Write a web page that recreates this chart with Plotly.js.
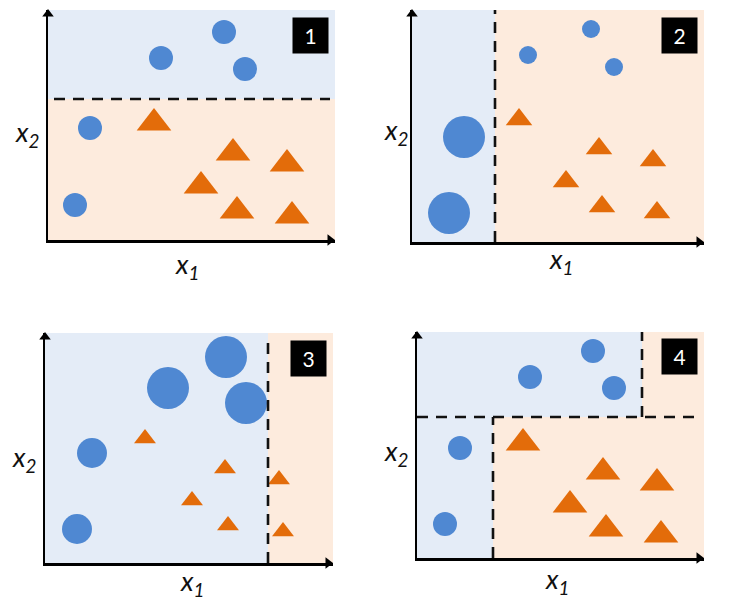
<!DOCTYPE html>
<html>
<head>
<meta charset="utf-8">
<script src="https://cdn.plot.ly/plotly-3.0.1.min.js"></script>
<style>html,body{margin:0;padding:0;background:#fff;}#chart{width:738px;height:603px;}</style>
</head>
<body>
<div id="chart"></div>
<script>
// ---------- data (relative positions in each panel) ----------
const panelLabels = ["1", "2", "3", "4"];

const circleX1 = [113, 176, 197, 42, 27];
const circleY1 = [182, 208, 171, 112, 35];
const circleW1 = [24, 24, 24, 24, 24];
const triX1 = [106, 185, 239, 153, 189, 244];
const triY1 = [117, 87, 76, 54, 29, 24];
const triW1 = [30, 30, 30, 30, 30, 30];

const circleX2 = [116, 179, 202, 52, 37];
const circleY2 = [187, 213, 175, 105, 29];
const circleW2 = [18, 18, 18, 42, 42];
const triX2 = [107, 187, 241, 154, 190, 245];
const triY2 = [122.5, 93.5, 81.5, 60.5, 35.5, 29.5];
const triW2 = [23, 23, 23, 23, 23, 23];

const circleX3 = [123, 181, 201, 47, 32];
const circleY3 = [175, 206, 160, 110, 34];
const circleW3 = [42, 42, 42, 30, 30];
const triX3 = [100, 180, 234, 147, 183, 238];
const triY3 = [124.5, 94.5, 83.5, 62.5, 37.5, 31.5];
const triW3 = [19, 19, 19, 19, 19, 19];

const circleX4 = [113, 176, 197, 43, 28];
const circleY4 = [181, 207, 170, 110, 34];
const circleW4 = [24, 24, 24, 24, 24];
const triX4 = [106, 186, 240, 153, 189, 244];
const triY4 = [115, 86, 75, 53, 29, 23];
const triW4 = [30, 30, 30, 30, 30, 30];

// decision boundaries (stumps) per panel
const split1 = {y: 141};
const split2 = {x: 83};
const split3 = {x: 223};
const split4 = {y: 141, xLow: 76, xHigh: 225};

// ---------- styling ----------
const BLUE = "#4f88d2", ORANGE = "#e36c0a";
const BLUE_BG = "#e4ecf7", ORANGE_BG = "#fdebdd";
const FONT = "Lato, 'Open Sans', sans-serif";
const W = 738, H = 603;

// panel frames in pixels: left, bottom, right, top
const frames = [
  {l: 48, b: 240, r: 335, t: 10},
  {l: 412, b: 242, r: 704, t: 10},
  {l: 45, b: 563, r: 333, t: 333},
  {l: 417, b: 558, r: 704, t: 332}
];

const data = [];
const shapes = [];
const annotations = [];
const layout = {
  width: W, height: H,
  margin: {l: 0, r: 0, t: 0, b: 0},
  paper_bgcolor: "#fff", plot_bgcolor: "rgba(0,0,0,0)",
  showlegend: false,
  font: {family: FONT}
};

const circles = [[circleX1, circleY1, circleW1], [circleX2, circleY2, circleW2], [circleX3, circleY3, circleW3], [circleX4, circleY4, circleW4]];
const tris = [[triX1, triY1, triW1], [triX2, triY2, triW2], [triX3, triY3, triW3], [triX4, triY4, triW4]];

frames.forEach((f, i) => {
  const n = i + 1;
  const xa = n === 1 ? "x" : "x" + n, ya = n === 1 ? "y" : "y" + n;
  const xw = f.r - f.l, yh = f.b - f.t;
  const axisCommon = {showgrid: false, zeroline: false, showline: true, linecolor: "#000", linewidth: 2.5,
    mirror: false, showticklabels: false, ticks: "", fixedrange: true};
  layout["xaxis" + (n === 1 ? "" : n)] = Object.assign({
    domain: [f.l / W, f.r / W], range: [0, xw], anchor: ya, side: "bottom"}, axisCommon);
  layout["yaxis" + (n === 1 ? "" : n)] = Object.assign({
    domain: [(H - f.b) / H, (H - f.t) / H], range: [0, yh], anchor: xa, side: "left"}, axisCommon);
  const rect = (x0, x1, y0, y1, c) => shapes.push({type: "rect", xref: xa, yref: ya, x0, x1, y0, y1, fillcolor: c, line: {width: 0}, layer: "below"});
  const dash = (x0, x1, y0, y1) => shapes.push({type: "line", xref: xa, yref: ya, x0, x1, y0, y1, line: {color: "#111", width: 2.6, dash: "11px,8px"}, layer: "above"});
  if (n === 1) {
    rect(0, xw, split1.y, yh, BLUE_BG); rect(0, xw, 0, split1.y, ORANGE_BG);
    dash(6, xw - 5, split1.y, split1.y);
  } else if (n === 2) {
    rect(0, split2.x, 0, yh, BLUE_BG); rect(split2.x, xw, 0, yh, ORANGE_BG);
    dash(split2.x, split2.x, 0, yh);
  } else if (n === 3) {
    rect(0, split3.x, 0, yh, BLUE_BG); rect(split3.x, xw, 0, yh, ORANGE_BG);
    dash(split3.x, split3.x, 0, yh - 5);
  } else {
    rect(0, split4.xHigh, split4.y, yh, BLUE_BG);
    rect(0, split4.xLow, 0, split4.y, BLUE_BG);
    rect(split4.xHigh, xw, split4.y, yh, ORANGE_BG);
    rect(split4.xLow, xw, 0, split4.y, ORANGE_BG);
    dash(0, xw - 7, split4.y, split4.y);
    dash(split4.xLow, split4.xLow, 0, split4.y);
    dash(split4.xHigh, split4.xHigh, split4.y, yh);
  }
  const [cx, cy, cw] = circles[i];
  const [tx, ty, tw] = tris[i];
  data.push({type: "scatter", mode: "markers", x: tx, y: ty, xaxis: xa, yaxis: ya, cliponaxis: false, hoverinfo: "skip",
    marker: {symbol: "triangle-up", size: tw, color: ORANGE, opacity: 1, line: {width: 0}}});
  data.push({type: "scatter", mode: "markers", x: cx, y: cy, xaxis: xa, yaxis: ya, cliponaxis: false, hoverinfo: "skip",
    marker: {symbol: "circle", size: cw, color: BLUE, opacity: 1, line: {width: 0}}});
  // axis arrowheads at the ends of the axis lines
  data.push({type: "scatter", mode: "markers", x: [xw - 5], y: [0], xaxis: xa, yaxis: ya, cliponaxis: false, hoverinfo: "skip",
    marker: {symbol: "triangle-right", size: 10, color: "#000", opacity: 1, line: {width: 0}}});
  data.push({type: "scatter", mode: "markers", x: [0], y: [yh - 4], xaxis: xa, yaxis: ya, cliponaxis: false, hoverinfo: "skip",
    marker: {symbol: "triangle-up", size: 10, color: "#000", opacity: 1, line: {width: 0}}});
  // label box
  annotations.push({xref: xa + " domain", yref: ya + " domain", x: (xw - 25) / xw, y: (yh - 25) / yh,
    text: panelLabels[i], showarrow: false, bgcolor: "#000", width: 35, height: 35, borderpad: 0,
    font: {color: "#fff", size: 21, family: FONT}, xanchor: "center", yanchor: "middle"});
});

// axis labels (paper pixels)
const xLabelPos = [[187, 265], [561, 260], [193, 582], [557, 580]];
const yLabelPos = [[27, 133], [396, 131], [24, 458], [396, 452]];
xLabelPos.forEach(p => annotations.push({xref: "paper", yref: "paper", x: p[0] / W, y: 1 - p[1] / H, showarrow: false,
  text: "<i>x<sub>1</sub></i>", font: {size: 27, color: "#111", family: FONT}, xanchor: "center", yanchor: "middle"}));
yLabelPos.forEach(p => annotations.push({xref: "paper", yref: "paper", x: p[0] / W, y: 1 - p[1] / H, showarrow: false,
  text: "<i>x<sub>2</sub></i>", font: {size: 27, color: "#111", family: FONT}, xanchor: "center", yanchor: "middle"}));

layout.shapes = shapes;
layout.annotations = annotations;

Plotly.newPlot("chart", data, layout, {displayModeBar: false, staticPlot: true});
</script>
</body>
</html>
